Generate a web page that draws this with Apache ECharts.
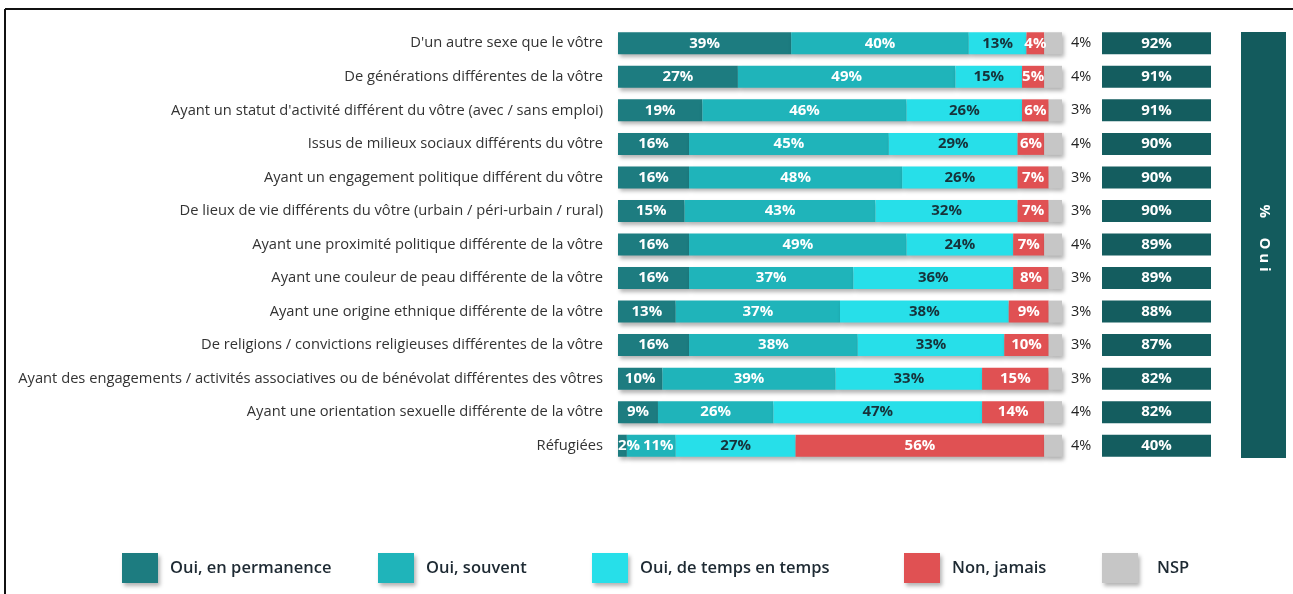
<!DOCTYPE html>
<html>
<head>
<meta charset="utf-8">
<script src="https://cdn.jsdelivr.net/npm/echarts@6/dist/echarts.min.js"></script>
<style>
  html, body { margin: 0; padding: 0; background: #fff; }
  #chart { width: 1293px; height: 594px; }
</style>
</head>
<body>
<div id="chart"></div>
<script>
// libellés des lignes (du haut vers le bas)
const categories = [
  "D'un autre sexe que le vôtre",
  "De générations différentes de la vôtre",
  "Ayant un statut d'activité différent du vôtre (avec / sans emploi)",
  "Issus de milieux sociaux différents du vôtre",
  "Ayant un engagement politique différent du vôtre",
  "De lieux de vie différents du vôtre (urbain / péri-urbain / rural)",
  "Ayant une proximité politique différente de la vôtre",
  "Ayant une couleur de peau différente de la vôtre",
  "Ayant une origine ethnique différente de la vôtre",
  "De religions / convictions religieuses différentes de la vôtre",
  "Ayant des engagements / activités associatives ou de bénévolat différentes des vôtres",
  "Ayant une orientation sexuelle différente de la vôtre",
  "Réfugiées"
];

const ouiPermanence = [39, 27, 19, 16, 16, 15, 16, 16, 13, 16, 10, 9, 2];
const ouiSouvent    = [40, 49, 46, 45, 48, 43, 49, 37, 37, 38, 39, 26, 11];
const ouiTemps      = [13, 15, 26, 29, 26, 32, 24, 36, 38, 33, 33, 47, 27];
const nonJamais     = [4, 5, 6, 6, 7, 7, 7, 8, 9, 10, 15, 14, 56];
const nsp           = [4, 4, 3, 4, 3, 3, 4, 3, 3, 3, 3, 4, 4];
const totalOui      = [92, 91, 91, 90, 90, 90, 89, 89, 88, 87, 82, 82, 40];

const seriesNames = ['Oui, en permanence', 'Oui, souvent', 'Oui, de temps en temps', 'Non, jamais', 'NSP'];
const colors = ['#1d7c80', '#1fb4ba', '#27dfe9', '#e05153', '#c6c6c6'];
const labelColors = ['#fff', '#fff', '#17323a', '#fff', '#222'];
const values = [ouiPermanence, ouiSouvent, ouiTemps, nonJamais, nsp];

const FONT = 'Open Sans';
const shadow = { shadowColor: 'rgba(0,0,0,0.3)', shadowBlur: 4, shadowOffsetX: 2, shadowOffsetY: 3 };

const gridTop = 26.5;
const gridHeight = 436;

const myChart = echarts.init(document.getElementById('chart'));

// quand le premier segment est trop étroit, on décale les deux premières étiquettes
const itemFor = (i, v, idx) => {
  if (ouiPermanence[idx] >= 5) return v;
  if (i === 0) return { value: v, label: { position: 'insideLeft', distance: 0 } };
  if (i === 1) return { value: v, label: { offset: [7, 0] } };
  return v;
};

const series = values.map((data, i) => ({
  name: seriesNames[i],
  type: 'bar',
  stack: 'total',
  barWidth: 22,
  xAxisIndex: 0,
  yAxisIndex: 0,
  data: data.map((v, idx) => itemFor(i, v, idx)),
  itemStyle: { color: colors[i], ...shadow },
  label: i < 4 ? {
    show: true,
    position: 'inside',
    formatter: '{c}%',
    color: labelColors[i],
    fontFamily: FONT,
    fontWeight: 'bold',
    fontSize: 15
  } : {
    show: true,
    position: 'right',
    distance: 9,
    formatter: '{c}%',
    color: '#222',
    fontFamily: FONT,
    fontSize: 14.5
  }
}));

// colonne "total Oui"
series.push({
  name: 'total',
  type: 'bar',
  barWidth: 22,
  xAxisIndex: 1,
  yAxisIndex: 1,
  data: totalOui.map(() => 1),
  itemStyle: { color: '#145d5f' },
  label: {
    show: true,
    position: 'inside',
    formatter: p => totalOui[p.dataIndex] + '%',
    color: '#fff',
    fontFamily: FONT,
    fontWeight: 'bold',
    fontSize: 15
  },
  silent: true
});

const legendLefts = [122, 378, 592, 904, 1102];
const legendPads = [7, 7, 7, 7, 14];
const legends = seriesNames.map((name, i) => ({
  data: [name],
  left: legendLefts[i],
  top: 553,
  padding: 0,
  icon: 'rect',
  itemWidth: 36,
  itemHeight: 30,
  itemStyle: { ...shadow },
  selectedMode: false,
  textStyle: {
    fontFamily: FONT,
    fontWeight: 600,
    fontSize: 16.5,
    color: '#1e2a33',
    padding: [0, 0, 0, legendPads[i]]
  }
}));

const option = {
  animation: false,
  color: colors,
  legend: legends,
  grid: [
    { left: 618, width: 444, top: gridTop, height: gridHeight },
    { left: 1102, width: 109, top: gridTop, height: gridHeight }
  ],
  xAxis: [
    { type: 'value', min: 0, max: 100, show: false, gridIndex: 0 },
    { type: 'value', min: 0, max: 1, show: false, gridIndex: 1 }
  ],
  yAxis: [
    {
      type: 'category',
      gridIndex: 0,
      inverse: true,
      data: categories,
      axisLine: { show: false },
      axisTick: { show: false },
      axisLabel: { color: '#333', fontFamily: FONT, fontSize: 14.7, margin: 15 }
    },
    {
      type: 'category',
      gridIndex: 1,
      inverse: true,
      data: categories,
      show: false
    }
  ],
  graphic: [
    { type: 'line', shape: { x1: 5, y1: 9, x2: 1293, y2: 9 }, style: { stroke: '#111', lineWidth: 2 } },
    { type: 'line', shape: { x1: 5, y1: 9, x2: 5, y2: 594 }, style: { stroke: '#111', lineWidth: 2 } },
    { type: 'rect', shape: { x: 1241, y: 32, width: 45, height: 426 }, style: { fill: '#135b5d' } },
    {
      type: 'text',
      x: 1264,
      y: 238,
      rotation: -Math.PI / 2,
      style: {
        text: '%     O u i',
        fill: '#fff',
        font: 'bold 15px "Open Sans"',
        textAlign: 'center',
        textVerticalAlign: 'middle',
        align: 'center',
        verticalAlign: 'middle'
      }
    }
  ],
  series: series
};

myChart.setOption(option);
</script>
</body>
</html>
